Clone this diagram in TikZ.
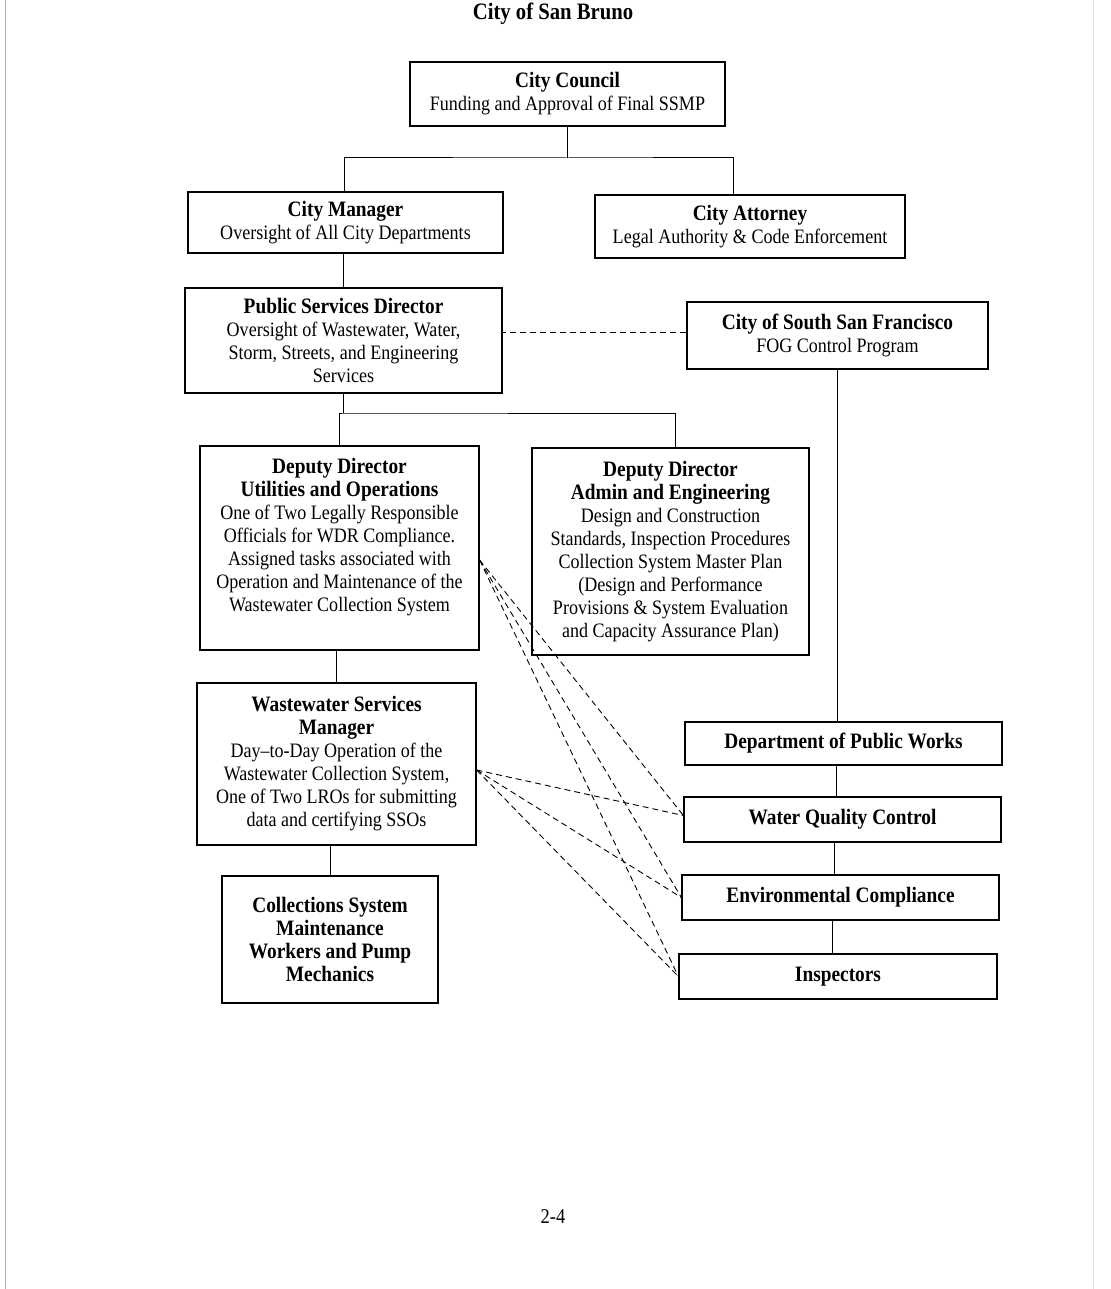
\documentclass[tikz,border=0pt]{standalone}
\usepackage{fontspec}
\setmainfont{Liberation Serif}[FakeStretch=0.88]
\usepackage{tikz}

\newcommand{\bodyfont}{\fontsize{20.5}{23}\selectfont}
\newcommand{\hd}[1]{{\fontsize{22}{25}\selectfont\bfseries #1}}

\begin{document}
\begin{tikzpicture}[x=1pt, y=-1pt,
    box/.style={draw, line width=1.2pt, inner sep=0pt, align=center, font=\bodyfont},
    link/.style={line width=1pt},
    dotlink/.style={line width=0.9pt, dash pattern=on 6pt off 4pt}]
    \useasboundingbox (0,0) rectangle (1110,1289);
    % page edges
    \draw[gray!60, line width=1pt] (5,0) -- (5,1289);
    \draw[gray!25, line width=1pt] (1093,0) -- (1093,1289);
    \node[font=\fontsize{23.5}{28}\selectfont\bfseries] (title) at (553,14) {City of San Bruno};

    % nodes: cc cm ca
    \node[box, minimum width=315pt, minimum height=64pt] (cc) at (567.5,94)
        {\hd{City Council}\\Funding and Approval of Final SSMP};
    \node[box, minimum width=315pt, minimum height=61pt] (cm) at (345.5,222.5)
        {\hd{City Manager}\\Oversight of All City Departments};
    \node[box, minimum width=310pt, minimum height=63pt] (ca) at (750,226.5)
        {\hd{City Attorney}\\Legal Authority \& Code Enforcement};
    % nodes: psd cssf
    \node[box, minimum width=317pt, minimum height=105pt] (psd) at (343.5,340.5)
        {\hd{Public Services Director}\\Oversight of Wastewater, Water,\\Storm, Streets, and Engineering\\Services};
    \node[box, minimum width=301pt, minimum height=67pt] (cssf) at (837.5,335.5)
        {\hd{City of South San Francisco}\\FOG Control Program};
    % nodes: dduo ddae
    \node[box, minimum width=279pt, minimum height=204pt] (dduo) at (339.5,548) {};
    \node[align=center, inner sep=0pt, font=\bodyfont] (dduotext) at (339.5,537.5)
        {\hd{Deputy Director}\\\hd{Utilities and Operations}\\One of Two Legally Responsible\\Officials for WDR Compliance.\\Assigned tasks associated with\\Operation and Maintenance of the\\Wastewater Collection System};
    \node[box, minimum width=277pt, minimum height=207pt] (ddae) at (670.5,551.5)
        {\hd{Deputy Director}\\\hd{Admin and Engineering}\\Design and Construction\\Standards, Inspection Procedures\\Collection System Master Plan\\(Design and Performance\\Provisions \& System Evaluation\\and Capacity Assurance Plan)};
    % nodes: wsm csmw
    \node[box, minimum width=279pt, minimum height=162pt] (wsm) at (336.5,764)
        {\hd{Wastewater Services}\\\hd{Manager}\\Day--to-Day Operation of the\\Wastewater Collection System,\\One of Two LROs for submitting\\data and certifying SSOs};
    \node[box, minimum width=216pt, minimum height=127pt] (csmw) at (330,939.5)
        {\hd{Collections System}\\\hd{Maintenance}\\\hd{Workers and Pump}\\\hd{Mechanics}};
    % nodes: dpw wqc ec insp
    \node[box, minimum width=317pt, minimum height=43pt] (dpw) at (843.5,743.5) {\hd{Department of Public Works}};
    \node[box, minimum width=317pt, minimum height=45pt] (wqc) at (842.5,819.5) {\hd{Water Quality Control}};
    \node[box, minimum width=317pt, minimum height=45pt] (ec) at (840.5,897.5) {\hd{Environmental Compliance}};
    \node[box, minimum width=318pt, minimum height=45pt] (insp) at (838,976.5) {\hd{Inspectors}};
    \node[font=\fontsize{21}{25}\selectfont] (page) at (553,1217) {2-4};

    % edges: cc-cm, cc-ca, cm-psd
    \coordinate (bus1) at (567.5,158);
    \draw[link] (cc.south) -- (bus1);
    \draw[link] ([xshift=-1.5pt]cm.north) |- (bus1) -| ([xshift=-17pt]ca.north);
    \draw[link] ([xshift=-2pt]cm.south) -- (psd.north);
    % edges: psd-cssf, cssf-dpw
    \draw[dotlink] ([yshift=3pt]cssf.west) -- ([yshift=3pt]cssf.west -| psd.east);
    \draw[link] (cssf.south) -- (cssf.south |- dpw.north);
    % edges: psd-dduo, psd-ddae
    \coordinate (bus2) at (343.5,413);
    \draw[link] (psd.south) -- (bus2);
    \draw[link] (dduo.north) |- (bus2) -| ([xshift=4.5pt]ddae.north);
    % edges: dduo-wsm, wsm-csmw
    \draw[link] (wsm.north |- dduo.south) -- (wsm.north);
    \draw[link] (csmw.north |- wsm.south) -- (csmw.north);
    % edges: dpw-wqc, wqc-ec, ec-insp
    \draw[link] ([xshift=-7pt]dpw.south) -- ([xshift=-7pt]dpw.south |- wqc.north);
    \draw[link] ([xshift=-8pt]wqc.south) -- ([xshift=-8pt]wqc.south |- ec.north);
    \draw[link] ([xshift=-8pt]ec.south) -- ([xshift=-8pt]ec.south |- insp.north);

    % dashed edges: dduo to wqc ec insp
    \draw[dotlink] ([yshift=-12pt]dduo.east) -- ([yshift=4pt]wqc.west);
    \draw[dotlink] ([yshift=-12pt]dduo.east) -- (ec.west);
    \draw[dotlink] ([yshift=-12pt]dduo.east) -- (insp.west);
    % dashed edges: wsm to wqc ec insp
    \draw[dotlink] ([yshift=-6pt]wsm.east) -- ([yshift=4pt]wqc.west);
    \draw[dotlink] ([yshift=-6pt]wsm.east) -- (ec.west);
    \draw[dotlink] ([yshift=-6pt]wsm.east) -- (insp.west);
\end{tikzpicture}
\end{document}
